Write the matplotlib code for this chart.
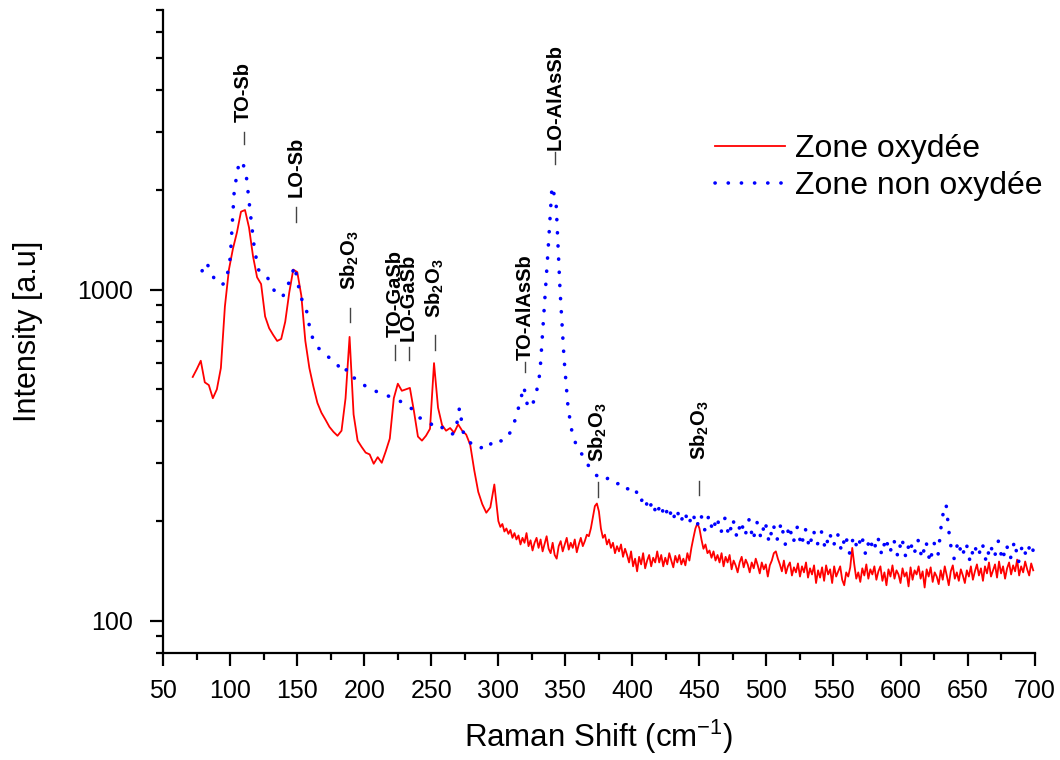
import numpy as np
import matplotlib
matplotlib.use("Agg")
import matplotlib.pyplot as plt

plt.rcParams['font.family'] = ['Liberation Sans', 'DejaVu Sans']
plt.rcParams['mathtext.fontset'] = 'custom'
plt.rcParams['mathtext.rm'] = 'Liberation Sans'
plt.rcParams['mathtext.it'] = 'Liberation Sans:italic'
plt.rcParams['mathtext.bf'] = 'Liberation Sans:bold'
plt.rcParams['mathtext.default'] = 'regular'

# ---------------- data ----------------
# Zone oxydée (red, solid): grid 72..297 step 3, then 300..699 step 1.5
red_shift = np.concatenate([np.arange(72, 298, 3), np.arange(300, 699.1, 1.5)])
red_intensity = [
    545, 575, 610, 525, 515, 470, 500, 580, 890, 1150,
    1330, 1490, 1720, 1740, 1540, 1260, 1090, 1040, 830, 765,
    730, 700, 710, 800, 980, 1150, 1130, 960, 700, 580,
    510, 455, 425, 405, 385, 372, 362, 375, 470, 720,
    420, 350, 335, 322, 318, 298, 312, 300, 325, 355,
    470, 520, 495, 500, 505, 430, 360, 350, 362, 380,
    600, 440, 390, 375, 382, 370, 392, 375, 365, 340,
    285, 245, 225, 212, 220, 258,
    # 300 .. 699 (step 1.5)
    200, 192, 196, 186, 190, 183, 188, 178, 184, 176,
    181, 170, 178, 172, 184, 168, 175, 163, 172, 178,
    166, 176, 162, 171, 180, 165, 160, 172, 158, 154,
    168, 174, 162, 170, 178, 164, 172, 166, 176, 161,
    170, 178, 168, 174, 182, 180, 190, 205, 222, 226,
    214, 190, 178, 182, 170, 176, 166, 172, 160, 168,
    162, 170, 156, 165, 158, 150, 162, 146, 154, 141,
    156, 148, 160, 144, 152, 158, 146, 155, 150, 162,
    150, 158, 146, 155, 148, 160, 152, 145, 157, 150,
    158, 148, 154, 147, 160, 152, 166, 178, 190, 197,
    190, 176, 165, 170, 160, 163, 155, 162, 152, 158,
    150, 160, 146, 156, 150, 158, 143, 152, 147, 140,
    150, 156, 145, 153, 148, 140, 150, 144, 154, 147,
    139, 150, 143, 148, 136, 147, 152, 160, 162, 154,
    148, 141, 152, 139, 146, 150, 137, 145, 140, 149,
    136, 146, 140, 150, 135, 144, 138, 147, 130, 142,
    135, 145, 132, 147, 138, 143, 130, 146, 136, 141,
    146, 133, 128, 140, 136, 145, 166, 148, 134, 140,
    131, 144, 137, 148, 134, 143, 138, 146, 133, 141,
    146, 132, 140, 128, 143, 136, 147, 134, 142, 138,
    130, 144, 136, 140, 127, 145, 133, 142, 138, 146,
    134, 141, 126, 143, 136, 145, 131, 140, 136, 129,
    142, 133, 146, 137, 128, 141, 147, 134, 140, 132,
    143, 137, 130, 142, 136, 146, 133, 141, 148, 137,
    144, 132, 146, 139, 150, 136, 142, 148, 135, 151,
    139, 146, 134, 144, 150, 138, 147, 141, 153, 137,
    146, 140, 151, 143, 137, 149, 142,
]

# Zone non oxydée (blue, dotted): Raman shift grid 79..700 step 3
blue_shift = np.arange(79, 701, 3)
blue_intensity = [
    1140, 1210, 1150, 1080, 1040, 1035, 1060, 1250, 2000, 2350,
    2450, 2200, 1700, 1330, 1150, 1110, 1100, 1050, 990, 960,
    950, 1010, 1080, 1180, 1020, 915, 860, 740, 690, 665,
    650, 630, 620, 610, 585, 560, 575, 545, 540, 525,
    520, 505, 500, 495, 488, 485, 478, 475, 470, 462,
    455, 450, 438, 425, 410, 408, 400, 392, 398, 390,
    380, 375, 365, 372, 440, 368, 352, 342, 335, 330,
    338, 332, 345, 340, 350, 348, 360, 378, 410, 455,
    510, 440, 445, 480, 560, 850, 1300, 2050, 1850, 1000,
    620, 440, 370, 340, 325, 310, 295, 285, 275, 272,
    265, 270, 262, 258, 262, 252, 250, 240, 245, 228,
    238, 215, 230, 208, 226, 205, 222, 200, 218, 198,
    214, 195, 212, 192, 210, 188, 208, 186, 206, 184,
    204, 180, 203, 178, 200, 180, 202, 175, 198, 177,
    200, 172, 196, 176, 198, 170, 194, 172, 192, 168,
    190, 166, 188, 170, 186, 164, 185, 168, 184, 162,
    182, 160, 180, 164, 182, 158, 178, 162, 180, 158,
    178, 160, 176, 156, 178, 155, 175, 158, 176, 154,
    174, 150, 172, 158, 205, 225, 172, 154, 174, 156,
    172, 150, 170, 156, 172, 150, 170, 155, 174, 152,
    170, 154, 174, 150, 170, 156, 172, 158,
]

series_labels = ['Zone oxydée', 'Zone non oxydée']

# peak annotations: label, Raman shift, tick low, tick high, text base
ann_labels = ['TO-Sb', 'LO-Sb', r'Sb$_2$O$_3$', 'TO-GaSb', 'LO-GaSb',
              r'Sb$_2$O$_3$', 'TO-AlAsSb', 'LO-AlAsSb', r'Sb$_2$O$_3$', r'Sb$_2$O$_3$']
ann_x = [110, 149, 189, 223, 233, 252.5, 320, 342, 374, 450]
ann_tick_lo = [2745, 1606, 800, 614, 614, 658, 565, 2389, 237, 240]
ann_tick_hi = [2985, 1771, 882, 682, 672, 731, 605, 2612, 262, 265]
ann_text_y = [3220, 1910, 1000, 721, 700, 822, 614, 2650, 302, 305]

# ---------------- figure ----------------
fig = plt.figure(figsize=(10.6, 7.6), dpi=100)
ax = fig.add_axes([0.154, 0.141, 0.822, 0.846])

ax.plot(red_shift, red_intensity, color='#ff0000', lw=1.3, label=series_labels[0])
ax.plot(blue_shift, blue_intensity, color='#0000ff', lw=2.6, linestyle=(0, (0.05, 3.6)),
        dash_capstyle='round', label=series_labels[1])

ax.set_yscale('log')
ax.set_xlim(50, 700)
ax.set_ylim(80, 7000)
ax.set_xticks(np.arange(50, 701, 50))
ax.set_xticks(np.arange(75, 700, 50), minor=True)
ax.set_yticks([100, 1000])
ax.set_yticklabels(['100', '1000'])
ax.yaxis.set_minor_locator(matplotlib.ticker.LogLocator(base=10, subs=np.arange(2, 10)))
ax.yaxis.set_minor_formatter(matplotlib.ticker.NullFormatter())

for s in ['top', 'right']:
    ax.spines[s].set_visible(False)
for s in ['left', 'bottom']:
    ax.spines[s].set_linewidth(1.6)
ax.tick_params(which='major', direction='out', length=9.5, width=1.6, labelsize=18)
ax.tick_params(which='minor', direction='out', length=5, width=1.6)
ax.tick_params(axis='x', which='major', pad=9)
ax.tick_params(axis='y', which='major', pad=12)

ax.set_xlabel(r'Raman Shift (cm$^{-1}$)', fontsize=22.5, labelpad=11)
ax.set_ylabel('Intensity [a.u]', fontsize=22, labelpad=25)

for lab, x, lo, hi, ty in zip(ann_labels, ann_x, ann_tick_lo, ann_tick_hi, ann_text_y):
    ax.plot([x, x], [lo, hi], color='#444444', lw=1.0)
    ax.text(x, ty, lab, rotation=90, ha='center', va='bottom', fontsize=14.5,
            fontweight='bold', color='black')

leg = ax.legend(loc='upper left', bbox_to_anchor=(715 / 1060, 1 - 134 / 760),
                bbox_transform=fig.transFigure, frameon=False, fontsize=23,
                handlelength=2.2, handletextpad=0.3, labelspacing=0.22, borderpad=0,
                borderaxespad=0)

fig.savefig('out.png', dpi=100)
